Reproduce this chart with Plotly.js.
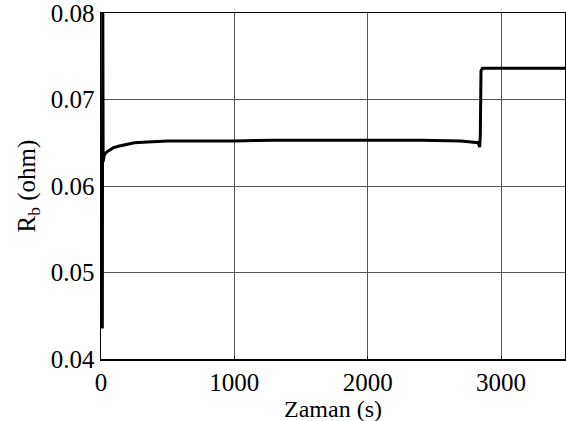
<!DOCTYPE html>
<html>
<head>
<meta charset="utf-8">
<script src="https://cdn.plot.ly/plotly-3.0.1.min.js"></script>
<style>html,body{margin:0;padding:0;background:#fff;}#chart{width:566px;height:421px;}</style>
</head>
<body>
<div id="chart"></div>
<script>
var timeS = [0, 10, 13, 16, 25, 40, 60, 90, 130, 180, 250, 350, 500, 700, 1000, 1300, 1600, 2000, 2400, 2700, 2800, 2830, 2840, 2845, 2850, 2860, 3000, 3300, 3500];
var resistance = [0.0437, 0.0437, 0.085, 0.0628, 0.0636, 0.0639, 0.0641, 0.0644, 0.0646, 0.0648, 0.0650, 0.0651, 0.0652, 0.0652, 0.0652, 0.0653, 0.0653, 0.0653, 0.0653, 0.0652, 0.0651, 0.0650, 0.0645, 0.0660, 0.0733, 0.0736, 0.0736, 0.0736, 0.0736];
var xTicks = [0, 1000, 2000, 3000];
var yTicks = [0.04, 0.05, 0.06, 0.07, 0.08];
var xTitle = 'Zaman (s)';
var yTitle = 'R<sub>b</sub> (ohm)';

var font = {family: 'Times New Roman, Liberation Serif, serif', size: 25, color: '#000'};
var xTitleFont = {family: 'Times New Roman, Liberation Serif, serif', size: 24, color: '#000'};

Plotly.newPlot('chart', [{
  x: timeS, y: resistance, type: 'scatter', mode: 'lines',
  line: {color: '#000', width: 3}, hoverinfo: 'none'
}], {
  width: 566, height: 421,
  margin: {l: 101, r: 1, t: 13, b: 62, pad: 0},
  paper_bgcolor: '#fff', plot_bgcolor: '#fff',
  showlegend: false,
  font: font,
  xaxis: {
    range: [0, 3480], tickvals: xTicks, ticktext: xTicks.map(String),
    showgrid: true, gridcolor: '#555', gridwidth: 1,
    showline: true, linecolor: '#000', linewidth: 1.5, mirror: true,
    ticks: 'inside', ticklen: 3, tickcolor: '#000',
    zeroline: false, tickfont: font, ticklabeloverflow: 'allow'
  },
  yaxis: {
    range: [0.04, 0.08], tickvals: yTicks, ticktext: yTicks.map(function(v){return v.toFixed(2);}),
    showgrid: true, gridcolor: '#555', gridwidth: 1,
    showline: true, linecolor: '#000', linewidth: 1.5, mirror: true,
    ticks: 'inside', ticklen: 3, tickcolor: '#000',
    zeroline: false, tickfont: font, ticklabeloverflow: 'allow',
    title: {text: yTitle, font: font, standoff: 8}
  },
  annotations: [{
    text: xTitle, xref: 'paper', yref: 'paper', x: 0.5, y: 0,
    xanchor: 'center', yanchor: 'middle', yshift: -50, borderpad: 0, showarrow: false, font: xTitleFont
  }]
}, {displayModeBar: false, staticPlot: true});
</script>
</body>
</html>
